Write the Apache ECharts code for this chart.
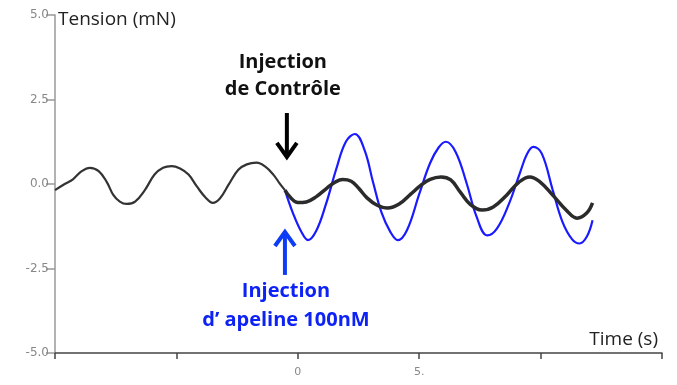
<!DOCTYPE html>
<html>
<head>
<meta charset="utf-8">
<script src="https://cdn.jsdelivr.net/npm/echarts@6/dist/echarts.min.js"></script>
<style>html,body{margin:0;padding:0;background:#fff}#c{width:677px;height:385px}</style>
</head>
<body>
<div id="c"></div>
<script>
// Tick labels
var xLabels = {0: '0', 5: '5.'};

// Control trace before injection [time s, tension mN]
var controlBefore = [
  [-10.0,-0.18],[-9.6,0.0],[-9.26,0.14],[-8.9,0.38],[-8.56,0.48],[-8.2,0.38],[-7.86,0.05],
  [-7.6,-0.32],[-7.33,-0.52],[-7.05,-0.59],[-6.7,-0.52],[-6.3,-0.18],[-5.9,0.28],[-5.55,0.48],
  [-5.2,0.53],[-4.85,0.46],[-4.5,0.28],[-4.15,-0.08],[-3.8,-0.4],[-3.5,-0.56],[-3.2,-0.42],
  [-2.85,-0.02],[-2.45,0.42],[-2.1,0.58],[-1.7,0.63],[-1.35,0.52],[-1.0,0.27],[-0.75,0.02],
  [-0.53,-0.18]
];
// Control trace after injection
var controlAfter = [
  [-0.53,-0.18],[-0.3,-0.40],[0.0,-0.55],[0.35,-0.53],[0.75,-0.38],[1.2,-0.12],[1.55,0.06],
  [1.85,0.13],[2.2,0.08],[2.5,-0.12],[2.85,-0.41],[3.25,-0.62],[3.7,-0.71],[4.2,-0.58],
  [4.65,-0.3],[5.05,-0.05],[5.45,0.14],[5.9,0.21],[6.3,0.12],[6.7,-0.25],[7.1,-0.6],
  [7.6,-0.77],[8.05,-0.68],[8.6,-0.33],[9.1,0.05],[9.55,0.21],[9.95,0.08],[10.5,-0.33],
  [11.05,-0.77],[11.5,-1.01],[11.9,-0.86],[12.14,-0.56]
];
// Apelin 100nM trace
var apelin = [
  [-0.53,-0.18],[-0.2,-0.86],[0.15,-1.42],[0.42,-1.66],[0.75,-1.4],[1.15,-0.62],[1.6,0.48],
  [1.98,1.25],[2.35,1.48],[2.75,1.0],[3.1,0.05],[3.45,-0.85],[3.8,-1.4],[4.12,-1.66],
  [4.5,-1.36],[5.0,-0.3],[5.45,0.62],[5.8,1.08],[6.1,1.25],[6.5,0.95],[6.95,0.03],
  [7.37,-0.98],[7.8,-1.52],[8.2,-1.32],[8.7,-0.58],[9.15,0.33],[9.45,0.9],[9.7,1.1],
  [10.05,0.9],[10.5,-0.18],[10.9,-1.12],[11.3,-1.64],[11.6,-1.76],[11.9,-1.56],[12.14,-1.07]
];
// Annotation anchors (data coords)
var arrowControl = [[-0.45, 2.1], [-0.45, 0.8]];
var arrowApelin = [[-0.53, -2.69], [-0.53, -1.42]];

var chart = echarts.init(document.getElementById('c'));
var option = {
  animation: false,
  grid: {left: 55, right: 15, top: 15, bottom: 32},
  xAxis: {
    type: 'value', min: -10, max: 15, interval: 5,
    axisLine: {onZero: false, lineStyle: {color: '#444', width: 1.5}},
    axisTick: {length: 6, lineStyle: {color: '#444', width: 1.5}},
    axisLabel: {color: '#888', fontSize: 11, fontFamily: 'DejaVu Sans', margin: 14,
      formatter: function (v) { return xLabels[v] !== undefined ? xLabels[v] : ''; }},
    splitLine: {show: false}
  },
  yAxis: {
    type: 'value', min: -5, max: 5, interval: 2.5,
    axisLine: {show: true, onZero: false, lineStyle: {color: '#999', width: 1.5}},
    axisTick: {show: true, length: 9, lineStyle: {color: '#999', width: 1.5}},
    axisLabel: {color: '#888', fontSize: 12, fontFamily: 'DejaVu Sans', margin: 6,
      formatter: function (v) { return v.toFixed(1); }},
    splitLine: {show: false}
  },
  series: [
    {type: 'line', data: controlBefore, smooth: 0.4, symbol: 'none',
      lineStyle: {color: '#333', width: 2.2}, z: 3},
    {type: 'line', data: apelin, smooth: 0.4, symbol: 'none',
      lineStyle: {color: '#1a1aff', width: 2.2}, z: 2},
    {type: 'line', data: controlAfter, smooth: 0.4, symbol: 'none',
      lineStyle: {color: '#2b2b2b', width: 3.5}, z: 3}
  ]
};
chart.setOption(option);

function px(p) { return chart.convertToPixel({gridIndex: 0}, p); }
var a1 = px(arrowControl[0]), a2 = px(arrowControl[1]);
var b1 = px(arrowApelin[0]), b2 = px(arrowApelin[1]);
var textFont = '"Open Sans", sans-serif';
chart.setOption({
  graphic: [
    {type: 'text', left: 58, top: 10, style: {text: 'Tension (mN)', fill: '#222', fontSize: 19, fontFamily: textFont}},
    {type: 'text', right: 19, top: 330, style: {text: 'Time (s)', fill: '#222', fontSize: 19, fontFamily: textFont}},
    {type: 'text', x: a1[0] - 4, y: 49, style: {text: 'Injection\nde Contrôle', fill: '#111', fontSize: 20, fontWeight: 'bold', fontFamily: textFont, align: 'center', lineHeight: 27}},
    {type: 'text', x: b1[0] + 1, y: 277, style: {text: 'Injection\nd\u2019 apeline 100nM', fill: '#0d22f5', fontSize: 20, fontWeight: 'bold', fontFamily: textFont, align: 'center', lineHeight: 29}},
    {type: 'line', shape: {x1: a1[0], y1: a1[1], x2: a2[0], y2: a2[1] - 2}, style: {stroke: '#000', lineWidth: 4}},
    {type: 'polyline', shape: {points: [[a2[0] - 10, a2[1] - 14], [a2[0], a2[1]], [a2[0] + 10, a2[1] - 14]]}, style: {stroke: '#000', lineWidth: 4, fill: null, lineJoin: 'miter'}},
    {type: 'line', shape: {x1: b1[0], y1: b1[1], x2: b2[0], y2: b2[1] + 2}, style: {stroke: '#0d3cf5', lineWidth: 4}},
    {type: 'polyline', shape: {points: [[b2[0] - 10, b2[1] + 14], [b2[0], b2[1]], [b2[0] + 10, b2[1] + 14]]}, style: {stroke: '#0d3cf5', lineWidth: 4, fill: null, lineJoin: 'miter'}}
  ]
});
</script>
</body>
</html>
